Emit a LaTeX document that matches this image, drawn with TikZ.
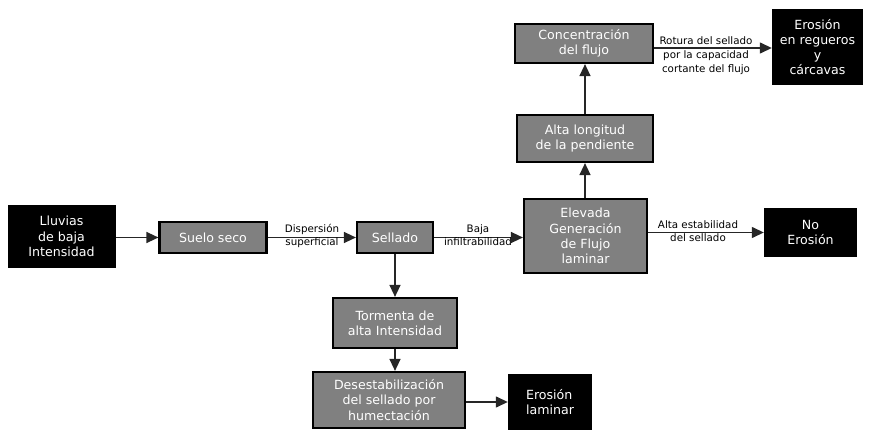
\documentclass[tikz,border=0pt]{standalone}
\usepackage{fontspec}
\setmainfont{DejaVu Sans}
\usetikzlibrary{arrows.meta}
\begin{document}
\begin{tikzpicture}[x=1pt,y=-1pt,
  graybox/.style={draw=black,line width=2.2pt,fill=black!50,text=white,inner sep=0pt,align=center,font=\fontsize{12.6}{15.2}\selectfont},
  blackbox/.style={draw=none,fill=black,text=white,inner sep=0pt,align=center,font=\fontsize{12.6}{15.2}\selectfont},
  conn/.style={line width=1.4pt,draw=black!85,-{Triangle[length=12pt,width=11pt]}},
  elabel/.style={inner sep=0pt,align=center,font=\fontsize{10.3}{13}\selectfont}]
\useasboundingbox (0,0) rectangle (872,430);
\node[blackbox,minimum width=108,minimum height=63] (lluvias) at (61.5,236.5) {Lluvias\\de baja\\Intensidad};
\node[graybox,minimum width=107,minimum height=31] (suelo) at (213,237.5) {Suelo seco};
\node[graybox,minimum width=76,minimum height=31] (sellado) at (395,237.5) {Sellado};
\node[graybox,minimum width=123,minimum height=74] (elevada) at (585.5,236) {Elevada\\Generación\\de Flujo\\laminar};
\node[blackbox,minimum width=93,minimum height=49] (noero) at (810.5,232.5) {No\\Erosión};
\node[graybox,minimum width=136,minimum height=47] (longitud) at (585,138.5) {Alta longitud\\de la pendiente};
\node[graybox,minimum width=138,minimum height=39] (conc) at (584,43.5) {Concentración\\del flujo};
\node[blackbox,minimum width=91,minimum height=76] (regueros) at (817.5,47) {Erosión\\en regueros\\y\\cárcavas};
\node[graybox,minimum width=124,minimum height=50] (tormenta) at (395,323) {Tormenta de\\alta Intensidad};
\node[graybox,minimum width=152,minimum height=56] (desest) at (389,400) {Desestabilización\\del sellado por\\humectación};
\node[blackbox,minimum width=84,minimum height=56,align=left] (laminar) at (550,402) {Erosión\\laminar};

\draw[conn] (lluvias.east |- suelo.west) -- (suelo.west);
\draw[conn] (suelo.east) -- (sellado.west);
\draw[conn] (sellado.east) -- (elevada.west |- sellado.east);
\draw[conn] (elevada.east |- noero.west) -- (noero.west);
\draw[conn] (elevada.north -| longitud.south) -- (longitud.south);
\draw[conn] (longitud.north) -- (conc.south -| longitud.north);
\draw[conn] (conc.east |- 0,48) -- (regueros.west |- 0,48);
\draw[conn] (sellado.south) -- (tormenta.north);
\draw[conn] (tormenta.south) -- (tormenta.south |- desest.north);
\draw[conn] (desest.east |- laminar.west) -- (laminar.west);

\node[elabel] (l1) at (312,235.5) {Dispersión\\superficial};
\node[elabel] (l2) at (478,235.5) {Baja\\infiltrabilidad};
\node[elabel] (l3) at (698,231.5) {Alta estabilidad\\del sellado};
\node[elabel,font=\fontsize{10.3}{14}\selectfont] (l4) at (706,56) {Rotura del sellado\\por la capacidad\\cortante del flujo};
\end{tikzpicture}
\end{document}
